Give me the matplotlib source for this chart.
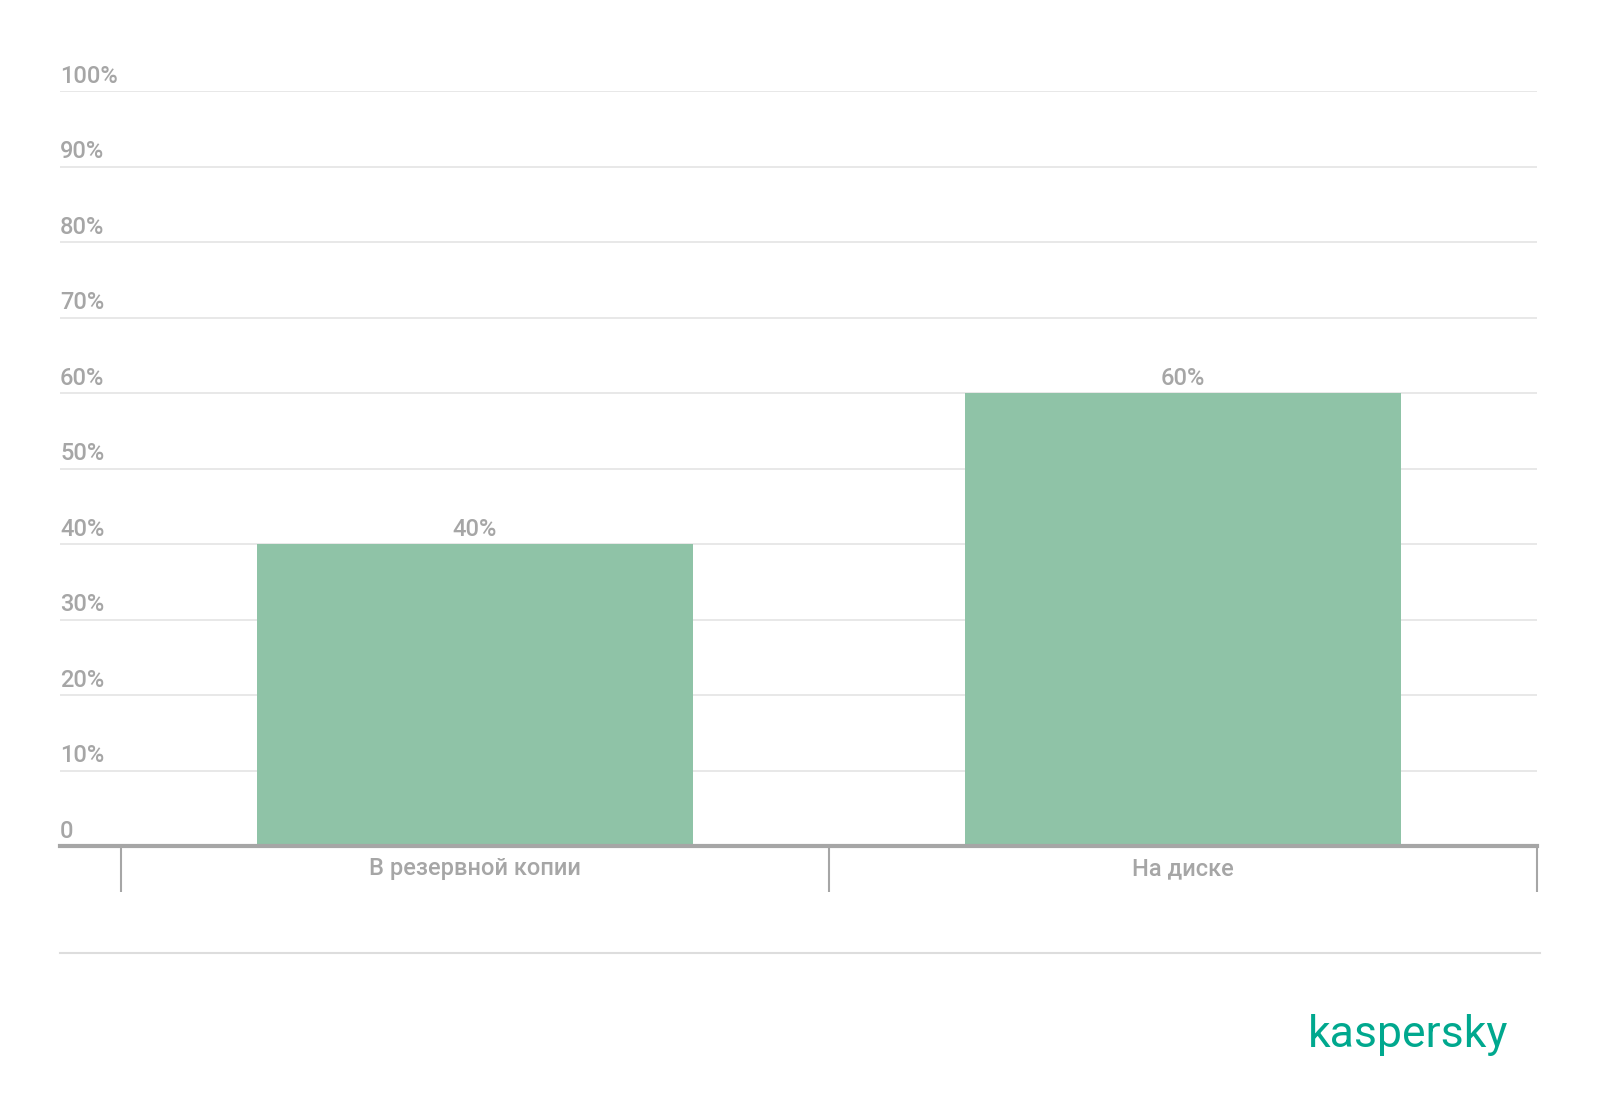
import numpy as np
import matplotlib.pyplot as plt
from matplotlib.lines import Line2D

categories = ['В резервной копии', 'На диске']
values = [40, 60]
yticks = [0, 10, 20, 30, 40, 50, 60, 70, 80, 90, 100]
ytick_labels = ['0', '10%', '20%', '30%', '40%', '50%', '60%', '70%', '80%', '90%', '100%']

plt.rcParams['font.family'] = ['Roboto', 'DejaVu Sans']
grey = '#a6a6a6'
bar_color = '#8fc3a7'

fig = plt.figure(figsize=(16, 11.16), dpi=100)
ax = fig.add_axes([0.0375, 0.2419, 0.923, 0.6765])

x = np.arange(len(categories))
bars = ax.bar(x, values, width=0.616, color=bar_color, zorder=2)

ax.set_ylim(0, 100)
ax.set_xlim(-0.586, 1.5)

# grid and y labels sitting above each line
for t, lab in zip(yticks, ytick_labels):
    if t > 0:
        ax.axhline(t, color='#e6e6e6', lw=1.3, zorder=1)
    ax.annotate(lab, (0, t), xycoords=('axes fraction', 'data'),
                xytext=(0, 2.5), textcoords='offset points',
                ha='left', va='bottom', fontsize=17, color=grey,
                fontweight='medium')

for b, v in zip(bars, values):
    ax.annotate(f'{v}%', (b.get_x() + b.get_width() / 2, v),
                xytext=(0, 2), textcoords='offset points',
                ha='center', va='bottom', fontsize=17, color=grey,
                fontweight='medium')

for s in ['top', 'right', 'left']:
    ax.spines[s].set_visible(False)
ax.spines['bottom'].set_color(grey)
ax.spines['bottom'].set_linewidth(3)
ax.spines['bottom'].set_zorder(3)

ax.set_yticks([])
ax.set_xticks(x)
ax.set_xticklabels(categories, fontsize=17, color=grey, fontweight='medium')
ax.tick_params(axis='x', which='major', length=0, pad=8)
ax.set_xticks(np.arange(len(categories) + 1) - 0.5, minor=True)
ax.tick_params(axis='x', which='minor', length=33, width=1.5, color=grey)

fig.add_artist(Line2D([0.0375, 0.9625], [0.146, 0.146], color='#dddddd', lw=1.5))
fig.text(0.9425, 0.073, 'kaspersky', ha='right', va='center', fontsize=32,
         color='#00a88e', fontweight='normal')

fig.savefig('out.png', dpi=100)
